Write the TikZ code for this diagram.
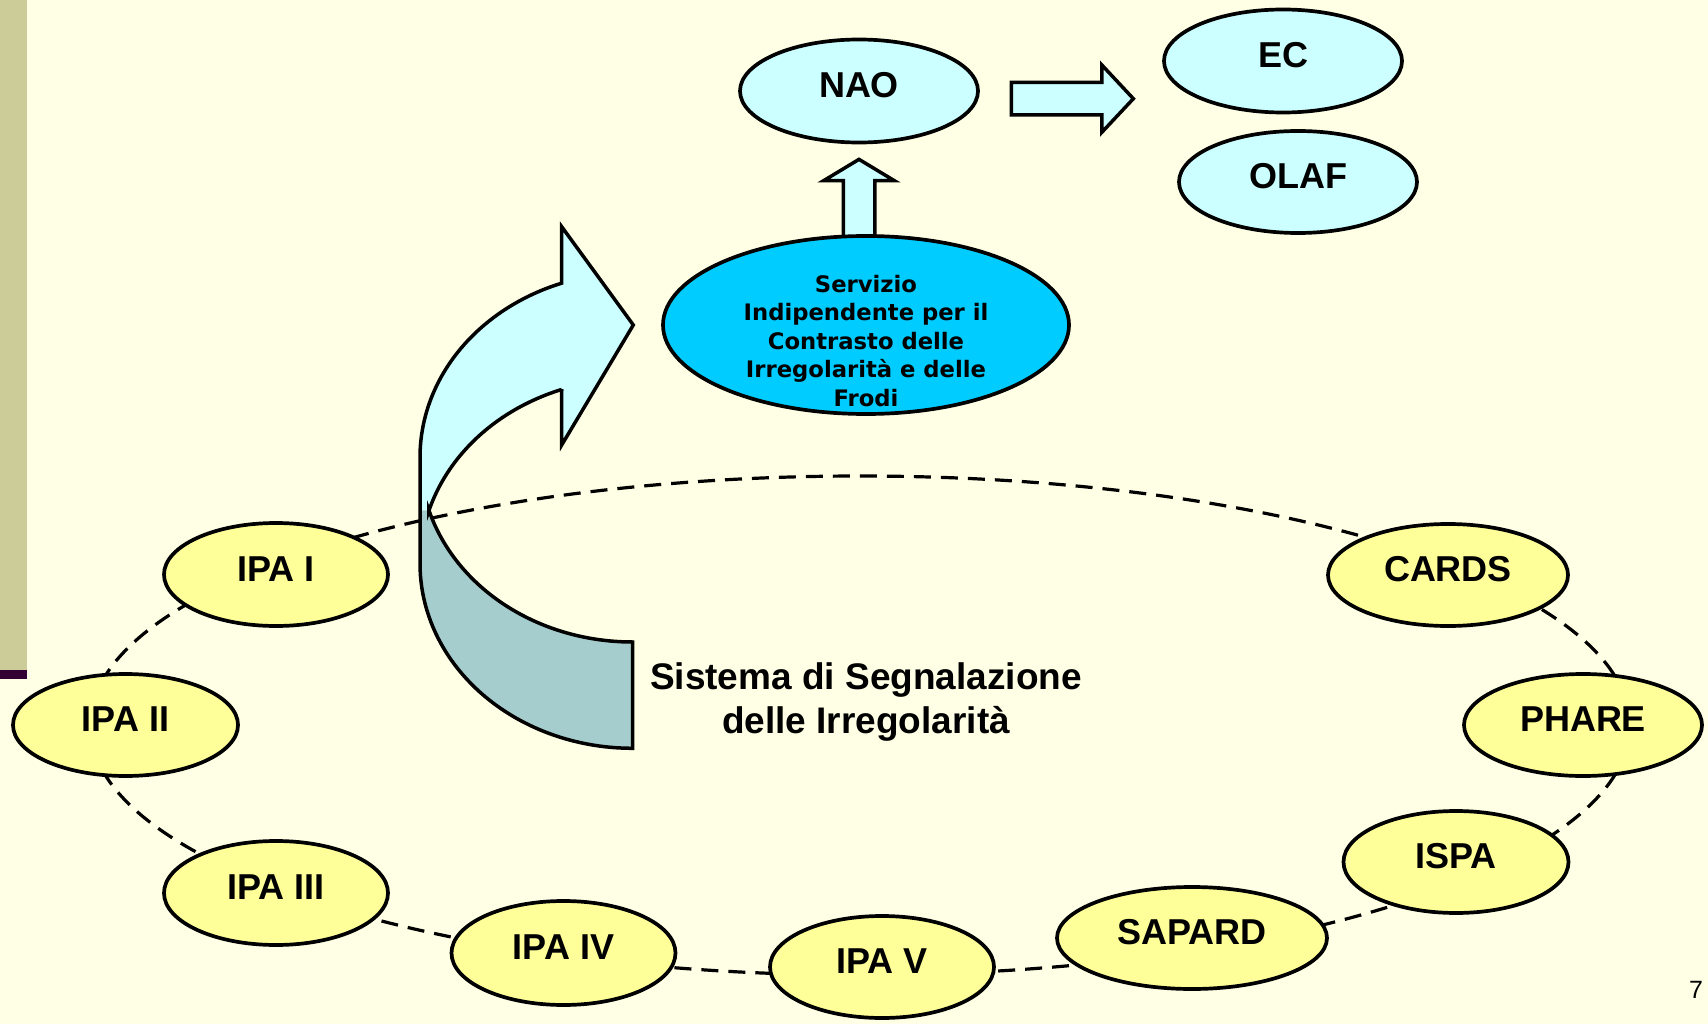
\documentclass[tikz,border=0pt]{standalone}
\usepackage{fontspec}
\setmainfont{Liberation Sans}
\newfontfamily\verdfont{DejaVu Sans}
\usetikzlibrary{shapes.geometric,calc}
\definecolor{bgc}{RGB}{255,255,229}
\definecolor{barc}{RGB}{204,204,153}
\definecolor{barp}{RGB}{51,0,51}
\definecolor{lcyan}{RGB}{204,255,255}
\definecolor{dcyan}{RGB}{0,204,255}
\definecolor{lyel}{RGB}{255,255,153}
\definecolor{backc}{RGB}{165,205,205}
\begin{document}
\begin{tikzpicture}[x=1pt,y=-1pt,
  oval/.style={ellipse, draw=black, line width=3.7pt, inner sep=0pt,
    font=\fontsize{36}{40}\selectfont\bfseries, text height=26pt, text depth=13pt},
  yoval/.style={oval, fill=lyel},
  coval/.style={oval, fill=lcyan},
  blockarrow/.style={fill=lcyan, draw=black, line width=3.5pt},
  ring/.style={draw=black, line width=3.2pt, dash pattern=on 17pt off 10pt},
  outl/.style={draw=black, line width=3.5pt},
]
\fill[bgc] (0,0) rectangle (1708,1024);
\useasboundingbox (0,0) rectangle (1708,1024);
\fill[barc] (0,0) rectangle (27,670);
\fill[barp] (0,670) rectangle (27,679);

% dashed ring
\draw[ring] (860,725.5) ellipse [x radius=770pt, y radius=249.5pt];

% curved arrow (front face and back face)
\fill[lcyan] (420,510.45) -- (420,457.3)
  -- plot[domain=0:70.54,samples=50] ({632.5-212.5*cos(\x)},{457.3-184.7*sin(\x)})
  -- (561.7,226.7) -- (633.3,325) -- (561.7,445) -- (561.7,389.4)
  -- plot[domain=70.54:16.72,samples=50] ({632.5-212.5*cos(\x)},{563.6-184.7*sin(\x)})
  -- cycle;
\fill[backc] (420,510.45)
  -- plot[domain=-16.72:-90,samples=50] ({632.5-212.5*cos(\x)},{457.3-184.7*sin(\x)})
  -- (632.5,748.3)
  -- plot[domain=-90:0,samples=50] ({632.5-212.5*cos(\x)},{563.6-184.7*sin(\x)})
  -- cycle;
\draw[outl] (420,563.6) -- (420,457.3)
  -- plot[domain=0:70.54,samples=50] ({632.5-212.5*cos(\x)},{457.3-184.7*sin(\x)})
  -- (561.7,226.7) -- (633.3,325) -- (561.7,445) -- (561.7,389.4)
  -- plot[domain=70.54:16.72,samples=50] ({632.5-212.5*cos(\x)},{563.6-184.7*sin(\x)})
  -- plot[domain=-16.72:-90,samples=50] ({632.5-212.5*cos(\x)},{457.3-184.7*sin(\x)})
  -- (632.5,748.3)
  -- plot[domain=-90:0,samples=50] ({632.5-212.5*cos(\x)},{563.6-184.7*sin(\x)})
  -- cycle;

% top nodes
\node[coval, minimum width=238pt, minimum height=103pt] (nao) at (859,91) {NAO};
\node[coval, minimum width=238pt, minimum height=103pt] (ec) at (1283,61) {EC};
\node[coval, minimum width=238pt, minimum height=102pt] (olaf) at (1298,182) {OLAF};

% up arrow Servizio -> NAO
\coordinate (ua) at ($(nao.south)+(0,15)$);
\draw[blockarrow] (ua) -- ($(ua)+(35.3,21.3)$) -- ($(ua)+(15.75,21.3)$) -- ($(ua)+(15.75,80)$)
  -- ($(ua)+(-15.75,80)$) -- ($(ua)+(-15.75,21.3)$) -- ($(ua)+(-35.3,21.3)$) -- cycle;

% right arrow NAO -> EC/OLAF
\coordinate (ra) at ($(nao.east)+(31.5,7.7)$);
\draw[blockarrow] ($(ra)+(0,-16.2)$) -- ($(ra)+(90.5,-16.2)$) -- ($(ra)+(90.5,-33.7)$)
  -- ($(ra)+(122,0)$) -- ($(ra)+(90.5,33.6)$) -- ($(ra)+(90.5,16.3)$) -- ($(ra)+(0,16.3)$) -- cycle;

% Servizio ellipse
\node[ellipse, draw=black, line width=3.7pt, fill=dcyan, inner sep=0pt,
  minimum width=406pt, minimum height=178pt] (serv) at (866,325) {};
\node[inner sep=0pt, align=center, font=\verdfont\bfseries\fontsize{22.7}{28.5}\selectfont]
  (servtxt) at ([yshift=-16pt]serv.center)
  {Servizio\\Indipendente per il\\Contrasto delle\\Irregolarità e delle\\Frodi};

% ring nodes
\node[yoval, minimum width=224pt, minimum height=103pt] (ipa1) at (276,574.5) {IPA I};
\node[yoval, minimum width=225pt, minimum height=102pt] (ipa2) at (125.5,725) {IPA II};
\node[yoval, minimum width=224pt, minimum height=104pt] (ipa3) at (276,893) {IPA III};
\node[yoval, minimum width=224pt, minimum height=104pt] (ipa4) at (563.5,953) {IPA IV};
\node[yoval, minimum width=224pt, minimum height=102pt] (ipa5) at (882,967) {IPA V};
\node[yoval, minimum width=270pt, minimum height=102pt] (sapard) at (1192,938) {SAPARD};
\node[yoval, minimum width=225pt, minimum height=102pt] (ispa) at (1456,862) {ISPA};
\node[yoval, minimum width=238pt, minimum height=102pt] (phare) at (1583,725) {PHARE};
\node[yoval, minimum width=240pt, minimum height=102pt] (cards) at (1448,575) {CARDS};

% caption
\node[inner sep=0pt, align=center, font=\fontsize{37}{44}\selectfont\bfseries]
  (sis) at (866,702) {Sistema di Segnalazione\\delle Irregolarità};

% page number
\node[inner sep=0pt, font=\fontsize{25}{28}\selectfont] (pg) at (1696,990) {7};
\end{tikzpicture}
\end{document}
